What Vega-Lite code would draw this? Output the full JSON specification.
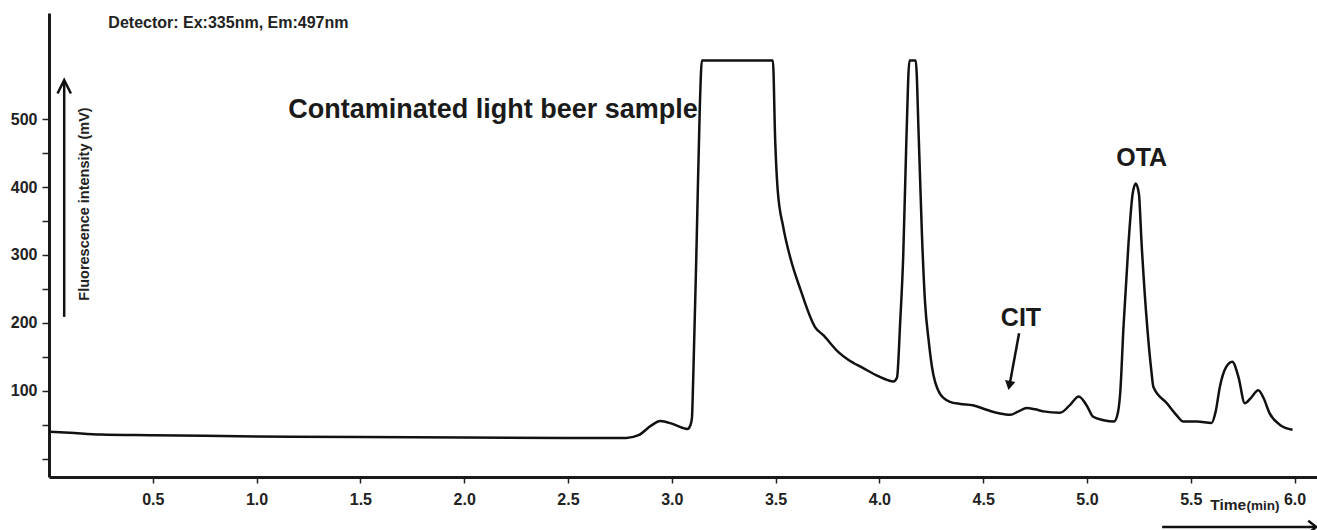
{
  "$schema": "https://vega.github.io/schema/vega-lite/v6.json",
  "width": 1268,
  "height": 464,
  "autosize": {"type": "none"},
  "padding": {"left": 49, "top": 13, "right": 0, "bottom": 53},
  "background": "white",
  "config": {"view": {"stroke": null}, "font": "Liberation Sans"},
  "datasets": {
    "trace": [
      {"t": 0.0, "mv": 40}, {"t": 0.1, "mv": 38.5}, {"t": 0.25, "mv": 36}, {"t": 0.5, "mv": 35},
      {"t": 0.75, "mv": 34}, {"t": 1.0, "mv": 33}, {"t": 1.5, "mv": 32.5}, {"t": 2.0, "mv": 31.5},
      {"t": 2.5, "mv": 31}, {"t": 2.78, "mv": 31}, {"t": 2.84, "mv": 35}, {"t": 2.9, "mv": 49},
      {"t": 2.944, "mv": 56}, {"t": 3.0, "mv": 52}, {"t": 3.05, "mv": 46}, {"t": 3.075, "mv": 44},
      {"t": 3.09, "mv": 50}, {"t": 3.097, "mv": 60}, {"t": 3.103, "mv": 116}, {"t": 3.12, "mv": 322},
      {"t": 3.135, "mv": 518}, {"t": 3.145, "mv": 586}, {"t": 3.487, "mv": 586}, {"t": 3.498, "mv": 469},
      {"t": 3.51, "mv": 396}, {"t": 3.537, "mv": 341}, {"t": 3.57, "mv": 297}, {"t": 3.62, "mv": 249},
      {"t": 3.69, "mv": 194}, {"t": 3.73, "mv": 182}, {"t": 3.8, "mv": 158}, {"t": 3.85, "mv": 146},
      {"t": 3.92, "mv": 134}, {"t": 4.0, "mv": 121}, {"t": 4.04, "mv": 116}, {"t": 4.068, "mv": 114},
      {"t": 4.085, "mv": 120}, {"t": 4.1, "mv": 200}, {"t": 4.115, "mv": 300}, {"t": 4.13, "mv": 469},
      {"t": 4.145, "mv": 586}, {"t": 4.175, "mv": 586}, {"t": 4.19, "mv": 469}, {"t": 4.205, "mv": 330},
      {"t": 4.22, "mv": 230}, {"t": 4.237, "mv": 175}, {"t": 4.253, "mv": 136}, {"t": 4.29, "mv": 97},
      {"t": 4.34, "mv": 84}, {"t": 4.39, "mv": 81}, {"t": 4.45, "mv": 79}, {"t": 4.52, "mv": 72},
      {"t": 4.58, "mv": 67}, {"t": 4.63, "mv": 65}, {"t": 4.67, "mv": 70}, {"t": 4.71, "mv": 75},
      {"t": 4.75, "mv": 73}, {"t": 4.79, "mv": 70}, {"t": 4.87, "mv": 68}, {"t": 4.92, "mv": 80},
      {"t": 4.96, "mv": 92}, {"t": 5.0, "mv": 78}, {"t": 5.03, "mv": 62}, {"t": 5.08, "mv": 57},
      {"t": 5.13, "mv": 55}, {"t": 5.15, "mv": 70}, {"t": 5.16, "mv": 97}, {"t": 5.176, "mv": 195},
      {"t": 5.2, "mv": 317}, {"t": 5.22, "mv": 390}, {"t": 5.235, "mv": 405}, {"t": 5.25, "mv": 390},
      {"t": 5.263, "mv": 317}, {"t": 5.29, "mv": 195}, {"t": 5.31, "mv": 130}, {"t": 5.32, "mv": 106},
      {"t": 5.385, "mv": 82}, {"t": 5.43, "mv": 65}, {"t": 5.465, "mv": 55}, {"t": 5.53, "mv": 55},
      {"t": 5.6, "mv": 53}, {"t": 5.62, "mv": 70}, {"t": 5.64, "mv": 106}, {"t": 5.67, "mv": 135},
      {"t": 5.7, "mv": 143}, {"t": 5.73, "mv": 120}, {"t": 5.76, "mv": 82}, {"t": 5.79, "mv": 90},
      {"t": 5.825, "mv": 101}, {"t": 5.85, "mv": 90}, {"t": 5.88, "mv": 67}, {"t": 5.93, "mv": 50},
      {"t": 5.99, "mv": 43}
    ],
    "arrows": [
      {"g": "yarrow", "o": 1, "t": 0.0732, "mv": 209},
      {"g": "yarrow", "o": 2, "t": 0.0732, "mv": 556},
      {"g": "yhead", "o": 1, "t": 0.0411, "mv": 537.5},
      {"g": "yhead", "o": 2, "t": 0.0732, "mv": 557.4},
      {"g": "yhead", "o": 3, "t": 0.1055, "mv": 537.5},
      {"g": "xarrow", "o": 1, "t": 5.362, "mv": -100},
      {"g": "xarrow", "o": 2, "t": 6.104, "mv": -100},
      {"g": "xhead", "o": 1, "t": 6.066, "mv": -91},
      {"g": "xhead", "o": 2, "t": 6.105, "mv": -100},
      {"g": "xhead", "o": 3, "t": 6.066, "mv": -109},
      {"g": "cit", "o": 1, "t": 4.673, "mv": 185},
      {"g": "cit", "o": 2, "t": 4.629, "mv": 112}
    ]
  },
  "layer": [
    {
      "data": {"name": "trace"},
      "mark": {"type": "line", "color": "#111111", "strokeWidth": 2.5, "interpolate": "monotone"},
      "encoding": {
        "x": {
          "field": "t", "type": "quantitative",
          "scale": {"domain": [0, 6.108], "nice": false, "zero": false},
          "axis": {
            "title": null, "grid": false,
            "values": [0.5, 1.0, 1.5, 2.0, 2.5, 3.0, 3.5, 4.0, 4.5, 5.0, 5.5, 6.0],
            "format": ".1f",
            "labelFont": "Liberation Sans", "labelFontWeight": "bold", "labelFontSize": 16,
            "labelColor": "#222222", "labelPadding": 8,
            "tickSize": 6, "tickWidth": 1.5, "tickColor": "#222222",
            "domainWidth": 3, "domainColor": "#1a1a1a"
          }
        },
        "y": {
          "field": "mv", "type": "quantitative",
          "scale": {"domain": [-26.5, 655.9], "nice": false, "zero": false},
          "axis": {
            "title": null, "grid": false,
            "values": [0, 50, 100, 150, 200, 250, 300, 350, 400, 450, 500],
            "labelExpr": "datum.value % 100 === 0 && datum.value > 0 ? datum.label : ''",
            "labelFont": "Liberation Sans", "labelFontWeight": "bold", "labelFontSize": 16,
            "labelColor": "#222222", "labelPadding": 5,
            "tickSize": 7, "tickWidth": 1.5, "tickColor": "#222222",
            "domainWidth": 3, "domainColor": "#1a1a1a"
          }
        }
      }
    },
    {
      "data": {"name": "arrows"},
      "mark": {"type": "line", "color": "#111111", "strokeWidth": 2.5, "interpolate": "linear"},
      "encoding": {
        "x": {"field": "t", "type": "quantitative"},
        "y": {"field": "mv", "type": "quantitative"},
        "detail": {"field": "g", "type": "nominal"},
        "order": {"field": "o", "type": "quantitative"}
      }
    },
    {
      "data": {"values": [{"t": 4.626, "mv": 108}]},
      "mark": {"type": "point", "shape": "triangle-down", "filled": true, "size": 110, "angle": 11, "color": "#111111", "opacity": 1},
      "encoding": {
        "x": {"field": "t", "type": "quantitative"},
        "y": {"field": "mv", "type": "quantitative"}
      }
    },
    {
      "data": {"values": [{"t": 0.286, "mv": 633.4, "label": "Detector: Ex:335nm, Em:497nm"}]},
      "mark": {"type": "text", "align": "left", "baseline": "alphabetic", "font": "Liberation Sans", "fontWeight": "bold", "fontSize": 16, "color": "#222222"},
      "encoding": {
        "x": {"field": "t", "type": "quantitative"},
        "y": {"field": "mv", "type": "quantitative"},
        "text": {"field": "label"}
      }
    },
    {
      "data": {"values": [{"t": 1.152, "mv": 501, "label": "Contaminated light beer sample"}]},
      "mark": {"type": "text", "align": "left", "baseline": "alphabetic", "font": "Liberation Sans", "fontWeight": "bold", "fontSize": 27, "color": "#1a1a1a"},
      "encoding": {
        "x": {"field": "t", "type": "quantitative"},
        "y": {"field": "mv", "type": "quantitative"},
        "text": {"field": "label"}
      }
    },
    {
      "data": {"values": [{"t": 4.585, "mv": 195.6, "label": "CIT"}, {"t": 5.141, "mv": 431, "label": "OTA"}]},
      "mark": {"type": "text", "align": "left", "baseline": "alphabetic", "font": "Liberation Sans", "fontWeight": "bold", "fontSize": 25, "color": "#1a1a1a"},
      "encoding": {
        "x": {"field": "t", "type": "quantitative"},
        "y": {"field": "mv", "type": "quantitative"},
        "text": {"field": "label"}
      }
    },
    {
      "data": {"values": [{"t": 0.1744, "mv": 375, "label": "Fluorescence intensity (mV)"}]},
      "mark": {"type": "text", "align": "center", "baseline": "middle", "angle": 270, "font": "Liberation Sans", "fontWeight": "bold", "fontSize": 14.5, "color": "#222222"},
      "encoding": {
        "x": {"field": "t", "type": "quantitative"},
        "y": {"field": "mv", "type": "quantitative"},
        "text": {"field": "label"}
      }
    },
    {
      "data": {"values": [{"t": 5.594, "mv": -75, "label": "Time"}]},
      "mark": {"type": "text", "align": "left", "baseline": "alphabetic", "font": "Liberation Sans", "fontWeight": "bold", "fontSize": 15.5, "color": "#222222"},
      "encoding": {
        "x": {"field": "t", "type": "quantitative"},
        "y": {"field": "mv", "type": "quantitative"},
        "text": {"field": "label"}
      }
    },
    {
      "data": {"values": [{"t": 5.768, "mv": -75, "label": "(min)"}]},
      "mark": {"type": "text", "align": "left", "baseline": "alphabetic", "font": "Liberation Sans", "fontWeight": "bold", "fontSize": 13.5, "color": "#222222"},
      "encoding": {
        "x": {"field": "t", "type": "quantitative"},
        "y": {"field": "mv", "type": "quantitative"},
        "text": {"field": "label"}
      }
    }
  ]
}
